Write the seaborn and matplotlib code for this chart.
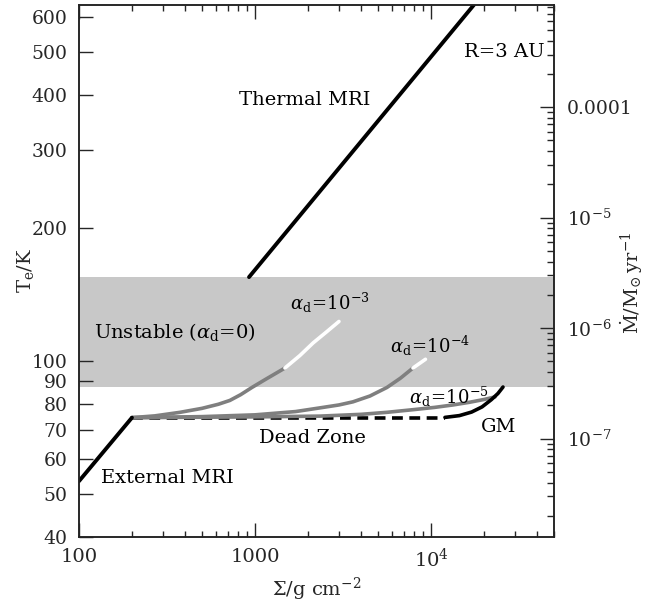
import numpy as np
import matplotlib
matplotlib.use('Agg')
import matplotlib.pyplot as plt
import matplotlib.ticker as mticker
import seaborn as sns

# values (Sigma in g cm^-2, T_e in K)
ext_sigma = [100, 200]
ext_T = [53.5, 74.5]

thermal_sigma = [925, 17500]
thermal_T = [155, 640]

dead_sigma = [200, 12000]
dead_T = [74.5, 74.5]

gm_sigma = [12000, 14500, 17000, 19500, 22000, 24000, 25650]
gm_T = [74.6, 75.3, 76.7, 78.8, 81.8, 84.5, 87.4]

a3_sigma = [200, 270, 375, 500, 620, 720, 830, 961, 1150, 1480]
a3_T = [74.5, 75.2, 76.6, 78.2, 79.9, 81.5, 84.0, 87.2, 91.0, 96.5]
a3w_sigma = [1480, 1800, 2140, 2550, 3000]
a3w_T = [96.5, 103, 110, 116.5, 123]

a4_sigma = [200, 500, 1000, 1700, 2340, 3000, 3600, 4500, 5620, 6700, 7900]
a4_T = [74.5, 74.9, 75.6, 76.9, 78.4, 79.6, 80.9, 83.4, 87.2, 91.5, 96.5]
a4w_sigma = [7900, 9300]
a4w_T = [96.5, 101]

a5_sigma = [200, 1000, 2340, 4000, 5620, 8000, 10500, 13340, 16500, 20000, 23100]
a5_T = [74.5, 74.8, 75.1, 75.8, 76.6, 77.7, 78.6, 79.6, 80.7, 81.9, 83.0]

unstable_band = [87.4, 155]

y_ticks = [40, 50, 60, 70, 80, 90, 100, 200, 300, 400, 500, 600]
x_ticks = [100, 1000, 10000]
x_labels = ['100', '1000', r'$10^4$']
mdot_ticks = [1e-7, 1e-6, 1e-5, 1e-4]
mdot_labels = [r'$10^{-7}$', r'$10^{-6}$', r'$10^{-5}$', '0.0001']
mdot_norm = 5.02e-15  # Mdot = norm * T^4
T_lim = (40, 640)

sns.set_style('ticks')
plt.rcParams['font.family'] = ['DejaVu Serif']
plt.rcParams['mathtext.fontset'] = 'dejavuserif'
plt.rcParams['xtick.direction'] = 'in'
plt.rcParams['ytick.direction'] = 'in'

fig = plt.figure(figsize=(6.58, 6.06), dpi=100)
ax = fig.add_axes([0.120, 0.1139, 0.722, 0.8778])
ax.set_xscale('log')
ax.set_yscale('log')
ax.set_xlim(100, 5e4)
ax.set_ylim(*T_lim)

ax.axhspan(unstable_band[0], unstable_band[1], color='#c8c8c8', lw=0, zorder=0)

gray = '#7f7f7f'
line_kw = dict(ax=ax, sort=False, estimator=None)
sns.lineplot(x=dead_sigma, y=dead_T, color='black', lw=2.6, linestyle=(0, (3, 1.8)), **line_kw)
sns.lineplot(x=a5_sigma, y=a5_T, color=gray, lw=2.6, **line_kw)
sns.lineplot(x=a4_sigma, y=a4_T, color=gray, lw=2.6, **line_kw)
sns.lineplot(x=a4w_sigma, y=a4w_T, color='white', lw=2.6, **line_kw)
sns.lineplot(x=a3_sigma, y=a3_T, color=gray, lw=2.6, **line_kw)
sns.lineplot(x=a3w_sigma, y=a3w_T, color='white', lw=2.6, **line_kw)
sns.lineplot(x=gm_sigma, y=gm_T, color='black', lw=2.6, **line_kw)
sns.lineplot(x=ext_sigma, y=ext_T, color='black', lw=2.8, **line_kw)
sns.lineplot(x=thermal_sigma, y=thermal_T, color='black', lw=2.8, **line_kw)

# ticks
ax.yaxis.set_major_locator(mticker.FixedLocator(y_ticks))
ax.yaxis.set_major_formatter(mticker.FixedFormatter([str(v) for v in y_ticks]))
ax.yaxis.set_minor_locator(mticker.NullLocator())
ax.xaxis.set_major_locator(mticker.FixedLocator(x_ticks))
ax.xaxis.set_major_formatter(mticker.FixedFormatter(x_labels))
ax.xaxis.set_minor_locator(mticker.LogLocator(base=10, subs=np.arange(2, 10)))
ax.xaxis.set_minor_formatter(mticker.NullFormatter())
ax.tick_params(axis='x', which='both', direction='in', top=True, bottom=True, labelsize=14, pad=8)
ax.tick_params(axis='x', which='major', length=10, width=1)
ax.tick_params(axis='x', which='minor', length=4.5, width=1)
ax.tick_params(axis='y', which='major', direction='in', left=True, right=False,
               length=10, width=1, labelsize=13.5, pad=8)
for sp in ax.spines.values():
    sp.set_linewidth(1.1)
    sp.set_color('#222222')
    sp.set_visible(True)

# right axis: accretion rate, Mdot proportional to T^4
ax2 = ax.twinx()
ax2.set_yscale('log')
ax2.set_ylim(mdot_norm * T_lim[0] ** 4, mdot_norm * T_lim[1] ** 4)
ax2.yaxis.set_major_locator(mticker.FixedLocator(mdot_ticks))
ax2.yaxis.set_major_formatter(mticker.FixedFormatter(mdot_labels))
ax2.yaxis.set_minor_locator(mticker.LogLocator(base=10, subs=np.arange(2, 10), numticks=50))
ax2.yaxis.set_minor_formatter(mticker.NullFormatter())
ax2.tick_params(axis='y', which='major', direction='in', right=True, left=False,
                length=10, width=1, labelsize=13.5, pad=9)
ax2.tick_params(axis='y', which='minor', direction='in', right=True, left=False, length=5, width=1)
for sp in ax2.spines.values():
    sp.set_linewidth(1.1)
    sp.set_color('#222222')
ax2.set_ylabel(r'$\dot{\rm M}/{\rm M}_{\odot}\,{\rm yr}^{-1}$', fontsize=14)
ax2.yaxis.set_label_coords(1.135, 0.477)

ax.set_xlabel(r'$\Sigma/{\rm g\ cm}^{-2}$', fontsize=14)
ax.xaxis.set_label_coords(0.5, -0.073)
ax.set_ylabel(r'${\rm T}_{\rm e}/{\rm K}$', fontsize=14)
ax.yaxis.set_label_coords(-0.09, 0.502)

# annotations
txt = dict(fontsize=14, color='black', transform=fig.transFigure, ha='center', va='center')
alp = dict(fontsize=13, color='black', transform=fig.transFigure, ha='center', va='center')
ax.text(305 / 658, 1 - 100 / 606, 'Thermal MRI', **txt)
ax.text(504 / 658, 1 - 52 / 606, 'R=3 AU', **txt)
ax.text(175 / 658, 1 - 332 / 606, r'Unstable ($\alpha_{\rm d}$=0)', **txt)
ax.text(330 / 658, 1 - 303 / 606, r'$\alpha_{\rm d}\!=\!10^{-3}$', **alp)
ax.text(430 / 658, 1 - 346 / 606, r'$\alpha_{\rm d}\!=\!10^{-4}$', **alp)
ax.text(449 / 658, 1 - 397 / 606, r'$\alpha_{\rm d}\!=\!10^{-5}$', **alp)
ax.text(312 / 658, 1 - 438 / 606, 'Dead Zone', **txt)
ax.text(499 / 658, 1 - 427 / 606, 'GM', **txt)
ax.text(167 / 658, 1 - 478 / 606, 'External MRI', **txt)

fig.savefig('out.png', dpi=100)
